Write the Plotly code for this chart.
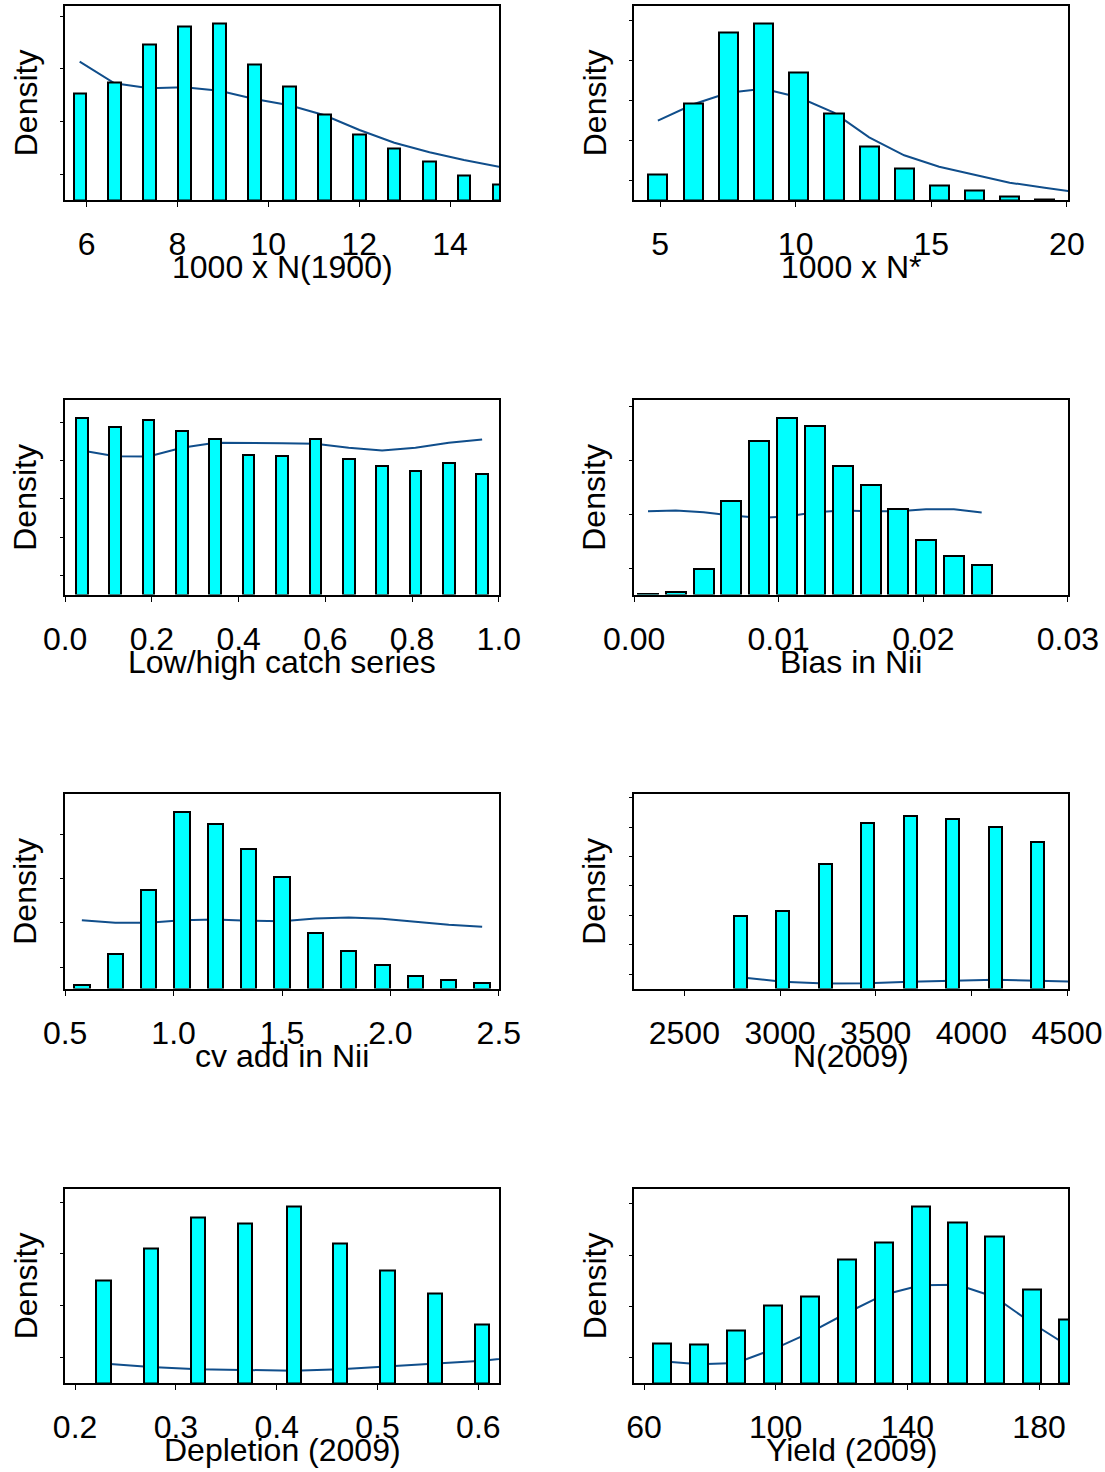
import plotly.graph_objects as go

W, H = 1105, 1472

# ---------------- data (density in arbitrary units) ----------------
# 1000 x N(1900)
n1900_x = [5.846, 6.613, 7.383, 8.154, 8.925, 9.695, 10.466, 11.237, 12.007, 12.774, 13.549, 14.308, 15.080]
n1900_post = [107, 117.3, 155.3, 174, 176.3, 135.7, 114, 85.3, 66, 51.7, 38.3, 25, 16]
n1900_prior = [138.3, 116.7, 111.7, 112.7, 109.3, 101, 94.7, 84.7, 70, 57.3, 47.7, 40, 33.3]

# 1000 x N*
nstar_x = [4.92, 6.23, 7.52, 8.81, 10.11, 11.41, 12.71, 14.0, 15.29, 16.59, 17.89, 19.18, 20.48]
nstar_post = [25.7, 96.7, 167.7, 176.3, 127.3, 87, 53.3, 31.7, 14.3, 9.3, 4, 0.7]
nstar_prior = [79.3, 95.7, 107.3, 111.3, 102.7, 87.3, 62.7, 44.7, 33.3, 25, 17.3, 12.3, 7.3]

# Low/high catch series
catch_x = [0.0385, 0.1154, 0.1923, 0.2692, 0.3462, 0.4231, 0.5, 0.5769, 0.6538, 0.7308, 0.8077, 0.8846, 0.9615]
catch_post = [176.3, 167.7, 174.7, 163.7, 155.3, 139.3, 138.3, 155.3, 135.7, 129, 124, 132, 120.7]
catch_prior = [144, 138.3, 138, 146.7, 151.7, 151.7, 151.3, 150.7, 146.7, 144, 146.7, 151.7, 155]

# Bias in Nii
bias_x = [0.00096, 0.00288, 0.00481, 0.00673, 0.00865, 0.01058, 0.0125, 0.01442, 0.01635, 0.01827, 0.02019, 0.02212, 0.02404]
bias_post = [0.7, 3, 25.7, 93.3, 154, 176.3, 169, 129, 109.3, 86, 55, 38.7, 29.7]
bias_prior = [83.3, 84, 82.3, 79, 76.7, 78, 82.3, 84, 83.3, 83.3, 85.3, 85.3, 82]

# cv add in Nii
cv_x = [0.577, 0.731, 0.885, 1.038, 1.192, 1.346, 1.5, 1.654, 1.808, 1.962, 2.115, 2.269, 2.423]
cv_post = [4, 34.7, 98.7, 176.7, 164.7, 139.3, 111.7, 56, 38, 23.3, 12.3, 8.7, 6]
cv_prior = [68.3, 65.7, 65.7, 68.3, 69, 67.7, 67.3, 70, 71, 69.7, 66.7, 63.7, 61.7]

# N(2009)
n2009_x = [2791.6, 3013.5, 3236.3, 3457.4, 3680.2, 3901.2, 4124.0, 4345.1, 4567.0]
n2009_post = [72.3, 77.3, 124.7, 165.7, 172.7, 170, 161.7, 146.7]
n2009_prior = [11.3, 6.7, 5, 5.3, 6.7, 8, 8.7, 7.7, 6.7]

# Depletion (2009)
dep_x = [0.2281, 0.2750, 0.3220, 0.3689, 0.4169, 0.4630, 0.5099, 0.5570, 0.6040, 0.6510]
dep_post = [102.7, 134.3, 165.3, 159.7, 176.7, 140, 112.7, 89.3, 58.7]
dep_prior = [19.5, 16, 13.7, 12.7, 12.3, 13.7, 16.7, 20, 22.3, 27]

# Yield (2009)
yld_x = [65.46, 76.75, 87.98, 99.21, 110.4, 121.6, 132.9, 144.1, 155.3, 166.5, 177.8, 189.0]
yld_post = [40, 39, 52.3, 77.7, 86.7, 123.7, 140.7, 176.7, 160.3, 146.3, 93.3, 63.3]
yld_prior = [21.7, 18.7, 20, 33.7, 50.3, 70, 88.3, 97.7, 98.3, 86, 60, 36.7]

panels = [
    dict(x=n1900_x, post=n1900_post, prior=n1900_prior, title="1000 x N(1900)",
         xrange=[5.523, 15.079], xticks=[6, 8, 10, 12, 14], xtext=["6", "8", "10", "12", "14"],
         yticks=[26, 78.7, 131.3, 184], frac=0.352),
    dict(x=nstar_x, post=nstar_post, prior=nstar_prior, title="1000 x N*",
         xrange=[4.04, 20.04], xticks=[5, 10, 15, 20], xtext=["5", "10", "15", "20"],
         yticks=[19.7, 59.7, 99.3, 139.3, 179.3], frac=0.54),
    dict(x=catch_x, post=catch_post, prior=catch_prior, title="Low/high catch series",
         xrange=[-0.0004, 1.0004], xticks=[0, 0.2, 0.4, 0.6, 0.8, 1.0],
         xtext=["0.0", "0.2", "0.4", "0.6", "0.8", "1.0"],
         yticks=[19, 57.3, 95.7, 134, 172.3], frac=0.35),
    dict(x=bias_x, post=bias_post, prior=bias_prior, title="Bias in Nii",
         xrange=[-0.00001, 0.03001], xticks=[0, 0.01, 0.02, 0.03],
         xtext=["0.00", "0.01", "0.02", "0.03"],
         yticks=[26.3, 80, 133.7, 188], frac=0.72),
    dict(x=cv_x, post=cv_post, prior=cv_prior, title="cv add in Nii",
         xrange=[0.4993, 2.5007], xticks=[0.5, 1.0, 1.5, 2.0, 2.5],
         xtext=["0.5", "1.0", "1.5", "2.0", "2.5"],
         yticks=[21.3, 65.7, 109.7, 154], frac=0.46),
    dict(x=n2009_x, post=n2009_post, prior=n2009_prior, title="N(2009)",
         xrange=[2237, 4505], xticks=[2500, 3000, 3500, 4000, 4500],
         xtext=["2500", "3000", "3500", "4000", "4500"],
         yticks=[14.3, 43.7, 73, 102.7, 132, 161.3, 191], frac=0.31),
    dict(x=dep_x, post=dep_post, prior=dep_prior, title="Depletion (2009)",
         xrange=[0.190, 0.6205], xticks=[0.2, 0.3, 0.4, 0.5, 0.6],
         xtext=["0.2", "0.3", "0.4", "0.5", "0.6"],
         yticks=[25.7, 77.7, 129.3, 181], frac=0.30),
    dict(x=yld_x, post=yld_post, prior=yld_prior, title="Yield (2009)",
         xrange=[56.96, 188.8], xticks=[60, 100, 140, 180], xtext=["60", "100", "140", "180"],
         yticks=[25.3, 76.7, 128, 179.3], frac=0.50),
]

# ---------------- layout geometry (pixels) ----------------
cols = [(65, 499), (634, 1068)]
rows = [(5.5, 200), (400, 594.5), (794, 988.5), (1188.5, 1383)]
YMAX = 194.5

FONT = "Liberation Sans, Arial, sans-serif"
BAR_COLOR = "#00FFFF"
LINE_COLOR = "#104E8B"

fig = go.Figure()
layout = dict(
    template="none",
    width=W, height=H, margin=dict(l=0, r=0, t=0, b=0, pad=0, autoexpand=False),
    paper_bgcolor="white", plot_bgcolor="white", showlegend=False,
    font=dict(family=FONT, color="black"),
)
annotations = []
NP = len(panels)

for i, p in enumerate(panels):
    r, c = divmod(i, 2)
    l, rr = cols[c]
    t, b = rows[r]
    k = i + 1
    xa = "x" if k == 1 else f"x{k}"
    ya = "y" if k == 1 else f"y{k}"
    yb = f"y{k + NP}"
    step = p["x"][1] - p["x"][0]
    nb = len(p["post"])
    # prior density line on the base subplot (drawn underneath)
    fig.add_trace(go.Scatter(x=p["x"][:len(p["prior"])], y=p["prior"], mode="lines",
                             line=dict(color=LINE_COLOR, width=2), xaxis=xa, yaxis=ya,
                             hoverinfo="skip"))
    # posterior histogram on an overlaid axis (drawn on top)
    fig.add_trace(go.Bar(x=p["x"][:nb], y=p["post"], width=p["frac"] * step,
                         marker=dict(color=BAR_COLOR, line=dict(color="black", width=2)),
                         xaxis=xa, yaxis=yb, hoverinfo="skip"))
    layout["xaxis" if k == 1 else f"xaxis{k}"] = dict(
        domain=[l / W, rr / W], anchor=ya, range=p["xrange"], automargin=False,
        showgrid=False, zeroline=False, showline=True, mirror=True,
        linecolor="black", linewidth=2,
        ticks="outside", ticklen=5, tickwidth=1, tickcolor="black",
        tickvals=p["xticks"], ticktext=p["xtext"],
        tickfont=dict(size=32, family=FONT, color="black"),
        ticklabelstandoff=10,
    )
    layout["yaxis" if k == 1 else f"yaxis{k}"] = dict(
        domain=[1 - b / H, 1 - t / H], anchor=xa, range=[0, YMAX], automargin=False,
        showgrid=False, zeroline=False, showline=True, mirror=True,
        linecolor="black", linewidth=2,
        ticks="outside", ticklen=3, tickwidth=1, tickcolor="black",
        tickvals=p["yticks"], showticklabels=False,
    )
    layout[f"yaxis{k + NP}"] = dict(
        overlaying=ya, anchor=xa, range=[0, YMAX], automargin=False,
        visible=False, showgrid=False, zeroline=False,
    )
    annotations.append(dict(
        text=p["title"], x=(l + rr) / 2 / W, y=1 - (b + 67) / H,
        xref="paper", yref="paper", xanchor="center", yanchor="middle",
        showarrow=False, font=dict(size=32, family=FONT, color="black"),
    ))
    annotations.append(dict(
        text="Density", x=(l - 39.5) / W, y=1 - (t + b) / 2 / H,
        xref="paper", yref="paper", xanchor="center", yanchor="middle",
        textangle=-90, showarrow=False, font=dict(size=32, family=FONT, color="black"),
    ))

layout["annotations"] = annotations
layout["bargap"] = 0
fig.update_layout(**layout)
fig.write_html("out.html")
